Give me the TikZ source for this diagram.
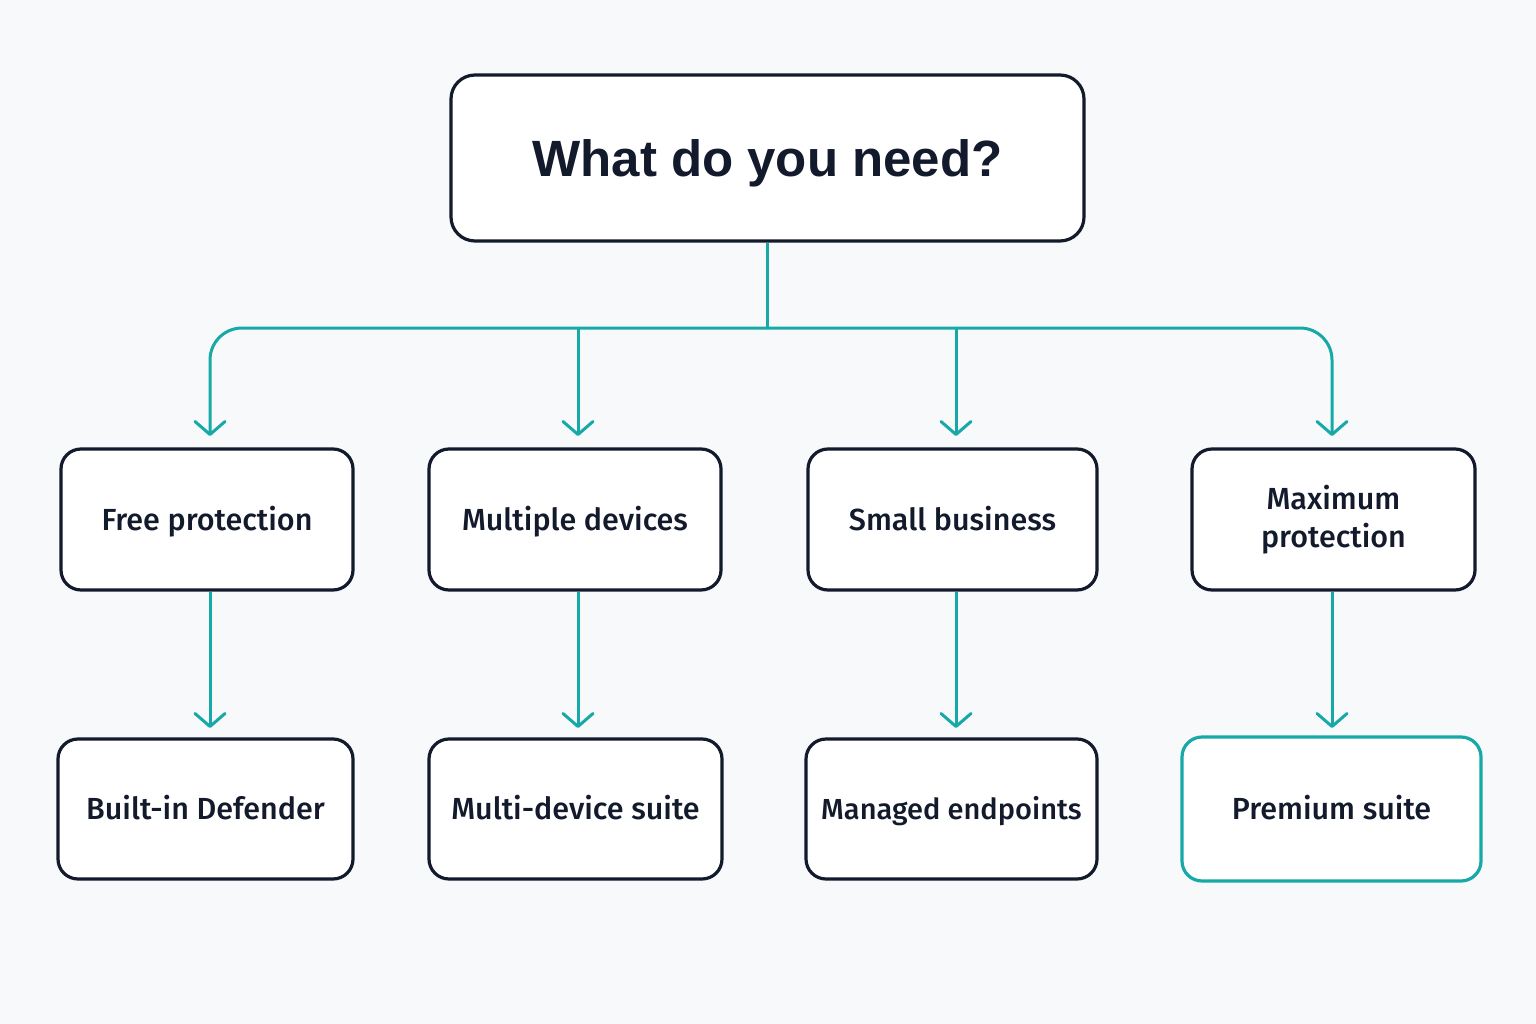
\documentclass[tikz,border=0pt]{standalone}
\usepackage{fontspec}
\usetikzlibrary{arrows.meta,calc}
\newfontfamily\titlefont{Liberation Sans}
\newfontfamily\labfont{Fira Sans Medium}
\definecolor{navy}{HTML}{121A2C}
\definecolor{teal}{HTML}{17A8A8}
\definecolor{bg}{HTML}{F8F9FB}
\begin{document}
\begin{tikzpicture}[x=1pt,y=-1pt,
  box/.style={draw=navy, line width=3.2pt, rounded corners=20pt, fill=white, inner sep=0pt,
    font=\labfont\fontsize{30.5}{38}\selectfont, text=navy, align=center},
  one/.style={text height=21.5pt, text depth=0pt},
  hl/.style={box, draw=teal},
  conn/.style={draw=teal, line width=3pt},
  arr/.style={conn, -{Straight Barb[length=13pt,width=30pt,line cap=round,line join=round]}}
]
\fill[bg] (0,0) rectangle (1536,1024);
\useasboundingbox (0,0) rectangle (1536,1024);

\node[box, rounded corners=24pt, minimum width=633pt, minimum height=166pt,
  text height=37pt, text depth=0pt,
  font=\titlefont\bfseries\fontsize{51}{60}\selectfont] (top) at (767.5,158) {What do you need?};

\node[box, one, minimum width=292pt, minimum height=141pt] (a1) at (207,519.5) {Free protection};
\node[box, one, minimum width=292pt, minimum height=141pt] (a2) at (575,519.5) {Multiple devices};
\node[box, one, minimum width=289pt, minimum height=141pt] (a3) at (952.5,519.5) {Small business};
\node[box, minimum width=283pt, minimum height=141pt] (a4) at (1333.5,519.5) {Maximum\\protection};

\node[box, one, minimum width=295pt, minimum height=140pt] (b1) at (205.5,809) {Built-in Defender};
\node[box, one, minimum width=293pt, minimum height=140pt] (b2) at (575.5,809) {Multi-device suite};
\node[box, one, minimum width=291pt, minimum height=140pt, font=\labfont\fontsize{29}{38}\selectfont] (b3) at (951.5,809) {Managed endpoints};
\node[hl, one, minimum width=299pt, minimum height=144pt] (b4) at (1331.5,809) {Premium suite};

\coordinate (hub) at (767,328);
\coordinate (t1) at (210,436);
\coordinate (t2) at (578,436);
\coordinate (t3) at (956,436);
\coordinate (t4) at (1332,436);
\coordinate (u1) at (210,728);
\coordinate (u2) at (578,728);
\coordinate (u3) at (956,728);
\coordinate (u4) at (1332,728);

\draw[conn] (top.south -| hub) -- (hub);
\draw[arr, rounded corners=32pt] (hub) -| (t1);
\draw[arr, rounded corners=32pt] (hub) -| (t4);
\draw[arr] (hub -| t2) -- (t2);
\draw[arr] (hub -| t3) -- (t3);

\draw[arr] (a1.south -| u1) -- (u1);
\draw[arr] (a2.south -| u2) -- (u2);
\draw[arr] (a3.south -| u3) -- (u3);
\draw[arr] (a4.south -| u4) -- (u4);
\end{tikzpicture}
\end{document}
